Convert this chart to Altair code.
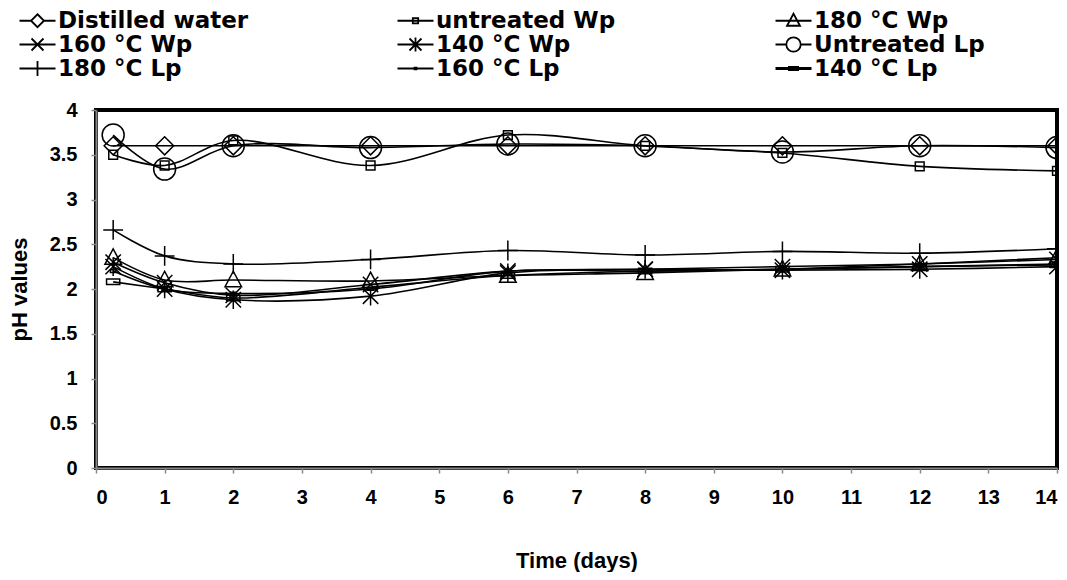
import altair as alt
import pandas as pd

days = [0.25, 1, 2, 4, 6, 8, 10, 12, 14]
series = ["Distilled water", "untreated Wp", "180 °C Wp",
          "160 °C Wp", "140 °C Wp", "Untreated Lp",
          "180 °C Lp", "160 °C Lp", "140 °C Lp"]

distilled_water = [3.60, 3.60, 3.60, 3.60, 3.60, 3.60, 3.60, 3.60, 3.60]
untreated_wp    = [3.50, 3.38, 3.66, 3.38, 3.72, 3.60, 3.52, 3.37, 3.32]
wp_180          = [2.35, 2.10, 2.10, 2.09, 2.15, 2.18, 2.22, 2.28, 2.35]
wp_160          = [2.30, 2.07, 1.93, 2.05, 2.20, 2.22, 2.25, 2.28, 2.33]
wp_140          = [2.25, 2.00, 1.88, 1.92, 2.18, 2.22, 2.21, 2.22, 2.25]
untreated_lp    = [3.72, 3.34, 3.60, 3.58, 3.62, 3.60, 3.53, 3.60, 3.58]
lp_180          = [2.66, 2.37, 2.28, 2.33, 2.43, 2.38, 2.42, 2.40, 2.45]
lp_160          = [2.20, 2.00, 1.95, 2.00, 2.20, 2.20, 2.22, 2.25, 2.28]
lp_140          = [2.08, 2.00, 1.90, 2.02, 2.15, 2.20, 2.22, 2.25, 2.27]

values = [distilled_water, untreated_wp, wp_180, wp_160, wp_140,
          untreated_lp, lp_180, lp_160, lp_140]

rows = []
for s, vals in zip(series, values):
    for d, v in zip(days, vals):
        rows.append({"series": s, "day": d, "ph": v})
df = pd.DataFrame(rows)

# marker shapes (unit box -1..1)
marker_paths = [
    "M0,-0.82L0.82,0L0,0.82L-0.82,0Z",
    "M-0.4,-0.4H0.4V0.4H-0.4Z",
    "M0,-0.8L0.75,0.6H-0.75Z",
    "M-0.7,-0.7L0.7,0.7M-0.7,0.7L0.7,-0.7",
    "M-0.7,-0.7L0.7,0.7M-0.7,0.7L0.7,-0.7M0,-0.85V0.85",
    "M-1,0A1,1,0,1,0,1,0A1,1,0,1,0,-1,0Z",
    "M-0.9,0H0.9M0,-0.9V0.9",
    "M-0.25,-0.12H0.25V0.12H-0.25Z",
    "M-0.6,-0.25H0.6V0.25H-0.6Z",
]

# legend symbols: line segment plus marker (unit = 10 px)
legend_paths = [
    "M-1.8,0H-0.65M0.65,0H1.8M0,-0.65L0.65,0L0,0.65L-0.65,0Z",
    "M-1.8,0H1.8M-0.27,-0.27H0.27V0.27H-0.27Z",
    "M-1.8,0H1.8M0,-0.7L0.65,0.5H-0.65Z",
    "M-1.8,0H1.8M-0.6,-0.6L0.6,0.6M-0.6,0.6L0.6,-0.6",
    "M-1.8,0H1.8M-0.6,-0.6L0.6,0.6M-0.6,0.6L0.6,-0.6M0,-0.7V0.7",
    "M-1.8,0H-0.72M0.72,0H1.8M-0.72,0A0.72,0.72,0,1,0,0.72,0A0.72,0.72,0,1,0,-0.72,0Z",
    "M-1.8,0H1.8M0,-0.75V0.75",
    "M-1.8,0H1.8M-0.18,-0.09H0.18M-0.18,0.09H0.18",
    "M-1.8,0H1.8M-1.8,-0.07H1.8M-1.8,0.07H1.8M-0.55,-0.16H0.55M-0.55,0.16H0.55",
]

stroke_widths = [1.6, 1.6, 1.6, 1.6, 1.6, 1.3, 1.6, 1.6, 3.2]

x_enc = alt.X("day:Q", scale=alt.Scale(domain=[0, 14], nice=False),
              axis=alt.Axis(values=list(range(15)), title="Time (days)",
                            labelExpr="datum.value + ''",
                            titlePadding=43, labelPadding=14))
y_enc = alt.Y("ph:Q", scale=alt.Scale(domain=[0, 4], nice=False),
              axis=alt.Axis(values=[0, 0.5, 1, 1.5, 2, 2.5, 3, 3.5, 4],
                            labelExpr="datum.value + ''",
                            title="pH values", titlePadding=18,
                            labelPadding=14))

lines = alt.Chart(df).mark_line(interpolate="catmull-rom", color="black").encode(
    x=x_enc, y=y_enc,
    detail="series:N",
    strokeWidth=alt.StrokeWidth("series:N",
                                scale=alt.Scale(domain=series, range=stroke_widths),
                                legend=None),
)

points = alt.Chart(df).mark_point(filled=False, color="black", strokeWidth=1.5,
                                  size=484, opacity=1).encode(
    x="day:Q", y="ph:Q",
    shape=alt.Shape("series:N",
                    scale=alt.Scale(domain=series, range=marker_paths),
                    legend=None),
)

legend_layer = alt.Chart(df).transform_filter("false").mark_point(
    filled=False, color="black", opacity=1).encode(
    x="day:Q", y="ph:Q",
    shape=alt.Shape("series:N",
                    scale=alt.Scale(domain=series, range=legend_paths),
                    legend=alt.Legend(
                        title=None, orient="none", legendX=-70, legendY=-101,
                        direction="horizontal",
                        columns=3, gridAlign="all", columnPadding=144,
                        rowPadding=-5, symbolSize=400, symbolOpacity=1,
                        symbolStrokeColor="black", symbolFillColor="transparent",
                        symbolStrokeWidth=1.8, labelFont="DejaVu Sans",
                        labelFontWeight="bold", labelFontSize=23,
                        labelColor="black", labelOffset=9, labelLimit=400)),
)

chart = alt.layer(lines, points, legend_layer).resolve_scale(
    shape="independent"
).properties(
    width=961, height=358,
    autosize=alt.AutoSizeParams(type="none"),
    padding={"left": 88, "top": 102, "right": 2, "bottom": 104},
).configure_view(
    stroke="black", strokeWidth=4
).configure_axis(
    grid=False,
    labelFont="Liberation Sans", labelFontWeight="bold", labelFontSize=20,
    labelColor="black",
    titleFont="Liberation Sans", titleFontWeight="bold", titleFontSize=22,
    titleColor="black",
    domainColor="#888888", domainWidth=2,
    tickColor="#888888", tickSize=5, tickWidth=1.5,
)

chart.save("out.html", embed_options={"renderer": "svg", "actions": False})
